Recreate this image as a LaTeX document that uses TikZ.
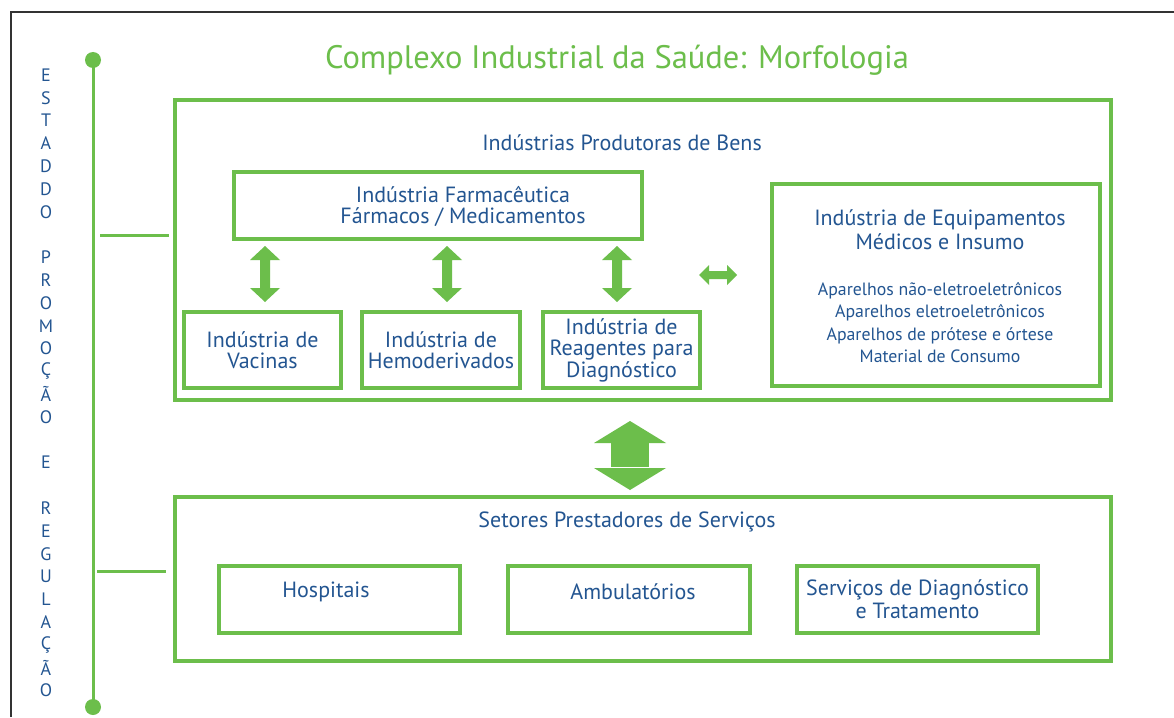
\documentclass[tikz,border=0pt]{standalone}
\usepackage{fontspec}
\setmainfont{PT Sans}
\definecolor{gr}{RGB}{108,190,75}
\definecolor{bl}{RGB}{35,85,145}
\begin{document}
\begin{tikzpicture}[x=1pt,y=-1pt,
  box/.style={draw=gr, line width=4pt, inner sep=0pt, text=bl, align=center},
  st/.style={font=\fontsize{17.8}{22.5}\selectfont},
  hd/.style={text=bl, font=\fontsize{22}{22}\selectfont},
  letter/.style={text=bl, font=\fontsize{18}{18}\selectfont, inner sep=0pt},
  conn/.style={draw=gr, line width=3pt},
  vda/.pic={\fill[gr] (0,0) -- (15,14) -- (5,14) -- (5,42) -- (15,42) -- (0,56) -- (-15,42) -- (-5,42) -- (-5,14) -- (-15,14) -- cycle;},
  hda/.pic={\fill[gr] (0,0) -- (10,-10) -- (10,-4) -- (28,-4) -- (28,-10) -- (38,0) -- (28,10) -- (28,4) -- (10,4) -- (10,10) -- cycle;},
  bigda/.pic={\fill[gr] (0,0) -- (36,22) -- (-36,22) -- cycle;
              \fill[gr] (-19,22) rectangle (19,46);
              \fill[gr] (-36,47) -- (36,47) -- (0,69) -- cycle;}
]
\useasboundingbox (0,0) rectangle (1174,717);
\fill[white] (0,0) rectangle (1174,717);
\draw[line width=2pt, black!80] (11,717) -- (11,12) -- (1174,12);

% title
\node[text=gr, font=\fontsize{32.5}{34}\selectfont] (title) at (617,60) {Complexo Industrial da Saúde: Morfologia};

% left axis
\node[circle, fill=gr, minimum size=16pt, inner sep=0pt] (dtop) at (93,60) {};
\node[circle, fill=gr, minimum size=16pt, inner sep=0pt] (dbot) at (93,707) {};
\draw[conn] (dtop.center) -- (dbot.center);

\foreach \ch [count=\i from 0] in {E,S,T,A,D,D,O,{},P,R,O,M,O,Ç,Ã,O,{},E,{},R,E,G,U,L,A,Ç,Ã,O}
  \node[letter] (l\i) at (46,{75+22.8*\i}) {\ch};

% big boxes
\node[box, minimum width=936pt, minimum height=300pt] (top) at (643,250) {};
\node[box, minimum width=936pt, minimum height=164pt] (bot) at (643,579) {};
\coordinate (c1) at (100,235);
\coordinate (c2) at (97,571);
\draw[conn] (c1) -- ([xshift=-4pt]c1 -| top.west);
\draw[conn] (c2) -- ([xshift=-7pt]c2 -| bot.west);

\node[hd] (prod) at (622,143) {Indústrias Produtoras de Bens};
\node[hd] (serv) at (627,522) {Setores Prestadores de Serviços};

% producing industries
\node[box, minimum width=408pt, minimum height=67pt] (farm) at (438,205.5) {};
\node[text=bl, align=center, font=\fontsize{22}{21}\selectfont] (farmt) at (463,206) {Indústria Farmacêutica\\Fármacos / Medicamentos};
\node[box, font=\fontsize{22}{21}\selectfont, minimum width=157pt, minimum height=76pt] (vac) at (262.5,350) {Indústria de\\Vacinas};
\node[box, font=\fontsize{22}{21}\selectfont, minimum width=158pt, minimum height=76pt] (hem) at (441,350) {Indústria de\\Hemoderivados};
\node[box, font=\fontsize{22}{21.5}\selectfont, minimum width=157pt, minimum height=76pt] (rea) at (621.5,350) {Indústria de\\Reagentes para\\Diagnóstico};
\node[box, minimum width=328pt, minimum height=202pt] (equ) at (936,285) {};
\node[text=bl, align=center, font=\fontsize{22}{24}\selectfont] (equt) at (940,230) {Indústria de Equipamentos\\Médicos e Insumo};
\node[text=bl, align=center, st] (equl) at (940,322.5) {Aparelhos não-eletroeletrônicos\\Aparelhos eletroeletrônicos\\Aparelhos de prótese e órtese\\Material de Consumo};

\pic at (265,246) {vda};
\pic at (447,246) {vda};
\pic at (617,246) {vda};
\pic at (699,275) {hda};
\pic at (630,421) {bigda};

% services
\node[box, minimum width=241pt, minimum height=67pt] (hos) at (339.5,599.5) {};
\node[text=bl, font=\fontsize{22}{22}\selectfont] (host) at (326,592) {Hospitais};
\node[box, minimum width=242pt, minimum height=67pt] (amb) at (629,599.5) {};
\node[text=bl, font=\fontsize{22}{22}\selectfont] (ambt) at (633,592) {Ambulatórios};
\node[box, font=\fontsize{22}{23}\selectfont, minimum width=241pt, minimum height=67pt] (sdt) at (917.5,599.5) {Serviços de Diagnóstico\\e Tratamento};
\end{tikzpicture}
\end{document}
